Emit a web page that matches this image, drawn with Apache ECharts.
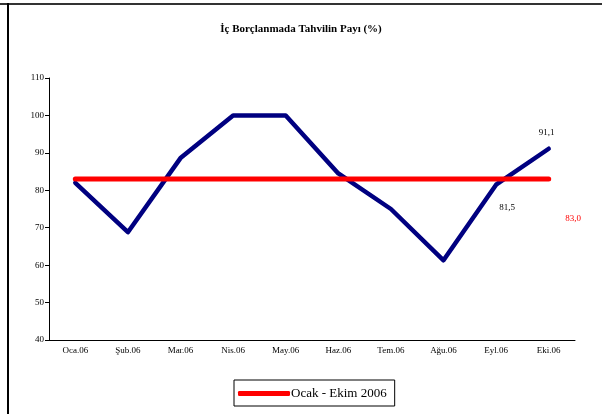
<!DOCTYPE html>
<html>
<head>
<meta charset="utf-8">
<script src="https://cdn.jsdelivr.net/npm/echarts@6/dist/echarts.min.js"></script>
<style>
  html, body { margin: 0; padding: 0; background: #fff; }
  #chart { width: 602px; height: 414px; }
</style>
</head>
<body>
<div id="chart"></div>
<script>
// months Jan-Oct 2006
const months = ['Oca.06', 'Şub.06', 'Mar.06', 'Nis.06', 'May.06', 'Haz.06', 'Tem.06', 'Ağu.06', 'Eyl.06', 'Eki.06']
const payValues = [82.0, 68.8, 88.6, 100.0, 100.0, 84.5, 75.0, 61.3, 81.5, 91.1]
const avgValues = [83.0, 83.0, 83.0, 83.0, 83.0, 83.0, 83.0, 83.0, 83.0, 83.0]
const yTicks = [40, 110, 10] // min, max, step

const FONT = "'Liberation Serif', 'DejaVu Serif', serif"
const fmt = (v) => v.toFixed(1).replace('.', ',')

const chart = echarts.init(document.getElementById('chart'), null, { renderer: 'canvas' })

chart.setOption({
  animation: false,
  backgroundColor: '#fff',
  title: {
    text: 'İç Borçlanmada Tahvilin Payı (%)',
    left: 'center',
    top: 19,
    textStyle: { fontFamily: FONT, fontSize: 11, fontWeight: 'bold', color: '#000' },
  },
  // frame edges of the original sheet
  graphic: [
    { type: 'rect', shape: { x: 0, y: 3, width: 602, height: 2 }, style: { fill: '#333' }, silent: true },
    { type: 'rect', shape: { x: 7, y: 3, width: 2, height: 411 }, style: { fill: '#000' }, silent: true },
  ],
  legend: {
    data: ['Ocak - Ekim 2006'],
    left: 234,
    top: 380,
    padding: [7, 8, 6, 4],
    borderColor: '#000',
    borderWidth: 1,
    itemWidth: 52,
    itemHeight: 5,
    itemGap: 0,
    icon: 'roundRect',
    textStyle: { fontFamily: FONT, fontSize: 13, color: '#000', padding: [0, 0, 0, -4] },
  },
  grid: { left: 49, right: 27, top: 78, bottom: 74 },
  xAxis: {
    type: 'category',
    data: months,
    boundaryGap: true,
    axisLine: { lineStyle: { color: '#000', width: 1 } },
    axisTick: { lineStyle: { color: '#000' }, length: 4 },
    axisLabel: { fontFamily: FONT, fontSize: 9, color: '#000', margin: 6 },
  },
  yAxis: {
    type: 'value',
    min: yTicks[0],
    max: yTicks[1],
    interval: yTicks[2],
    axisLine: { show: true, lineStyle: { color: '#000', width: 1 } },
    axisTick: { show: true, lineStyle: { color: '#000' }, length: 4 },
    axisLabel: { fontFamily: FONT, fontSize: 9, color: '#000', margin: 5 },
    splitLine: { show: false },
  },
  series: [
    {
      name: 'Pay',
      type: 'line',
      data: payValues.map((v, i) => {
        if (i === 8) return { value: v, label: { show: true, position: 'bottom', offset: [11, 13] } }
        if (i === 9) return { value: v, label: { show: true, position: 'top', offset: [-2, -6] } }
        return v
      }),
      showSymbol: true,
      symbol: 'circle',
      symbolSize: 1,
      lineStyle: { color: '#000080', width: 4.5, cap: 'round', join: 'round' },
      itemStyle: { color: '#000080' },
      label: { show: false, formatter: (p) => fmt(p.value), fontFamily: FONT, fontSize: 9, color: '#000' },
      z: 2,
    },
    {
      name: 'Ocak - Ekim 2006',
      type: 'line',
      data: avgValues.map((v, i) => i === avgValues.length - 1
        ? { value: v, label: { show: true, position: 'right', offset: [11, 40] } }
        : v),
      showSymbol: true,
      symbol: 'circle',
      symbolSize: 1,
      lineStyle: { color: '#ff0000', width: 5, cap: 'round' },
      itemStyle: { color: '#ff0000' },
      label: { show: false, formatter: (p) => fmt(p.value), fontFamily: FONT, fontSize: 9, color: '#ff0000' },
      z: 3,
    },
  ],
})
</script>
</body>
</html>
